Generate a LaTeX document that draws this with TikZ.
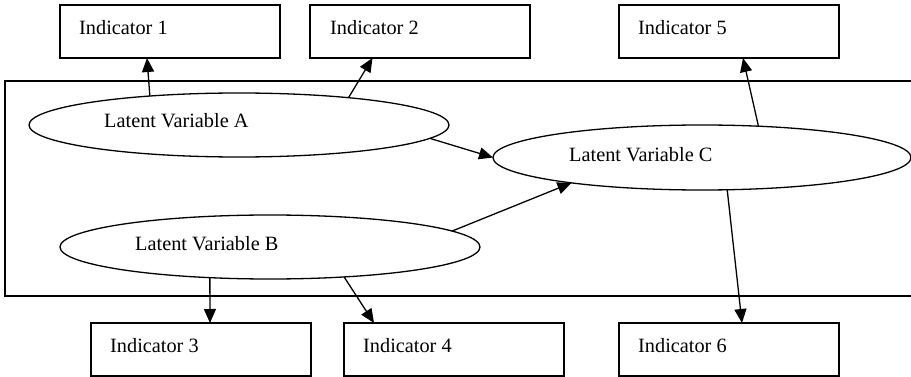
\documentclass[tikz,border=0pt]{standalone}
\usepackage{fontspec}
\setmainfont{Liberation Serif}
\usetikzlibrary{arrows.meta,shapes.geometric}
\begin{document}
\begin{tikzpicture}[x=1pt,y=-1pt,
  font=\fontsize{20.3}{24}\selectfont,
  box/.style={draw,line width=1.3pt,rectangle,minimum width=220pt,minimum height=53pt,inner sep=0pt,outer sep=0pt,anchor=north west},
  latent/.style={draw,line width=1.3pt,ellipse,minimum width=420pt,minimum height=64pt,inner sep=0pt,outer sep=0pt},
  lbl/.style={anchor=base west,inner sep=0pt},
  arr/.style={line width=1.3pt,-{Triangle[length=14pt,width=12pt]}}]
\useasboundingbox (0,0) rectangle (911,377);
% frame
\draw[line width=1.2pt] (913,81) -- (5,81) -- (5,296) -- (913,296);
% indicator boxes
\node[box] (I1) at (60,5) {};
\node[box] (I2) at (310,5) {};
\node[box] (I5) at (619,5) {};
\node[box] (I3) at (91,323) {};
\node[box] (I4) at (344,323) {};
\node[box] (I6) at (619,323) {};
\node[lbl] (t1) at (79,35) {Indicator 1};
\node[lbl] (t2) at (330,35) {Indicator 2};
\node[lbl] (t5) at (638,35) {Indicator 5};
\node[lbl] (t3) at (110,352) {Indicator 3};
\node[lbl] (t4) at (363,352) {Indicator 4};
\node[lbl] (t6) at (638,352) {Indicator 6};
% latent variables
\node[latent] (A) at (239,125) {};
\node[latent] (B) at (270,247) {};
\node[latent,minimum width=418pt,minimum height=65pt] (C) at (702,157.5) {};
\node[lbl] (tA) at (104,128) {Latent Variable A};
\node[lbl] (tB) at (135,250) {Latent Variable B};
\node[lbl] (tC) at (569,162) {Latent Variable C};
% connectors
\draw[arr] (A.162.4) -- ([xshift=-23pt]I1.south);
\draw[arr] (A.14.8) -- ([xshift=-47.5pt]I2.south);
\draw[arr] (A.-4.2) -- (C.180);
\draw[arr] (B.5.5) -- (C.191.9);
\draw[arr] (B.207.1) -- ([xshift=9pt]I3.north);
\draw[arr] (B.-22) -- ([xshift=-80pt]I4.north);
\draw[arr] (C.29.7) -- ([xshift=14pt]I5.south);
\draw[arr] (C.-52.3) -- ([xshift=13pt]I6.north);
\end{tikzpicture}
\end{document}
